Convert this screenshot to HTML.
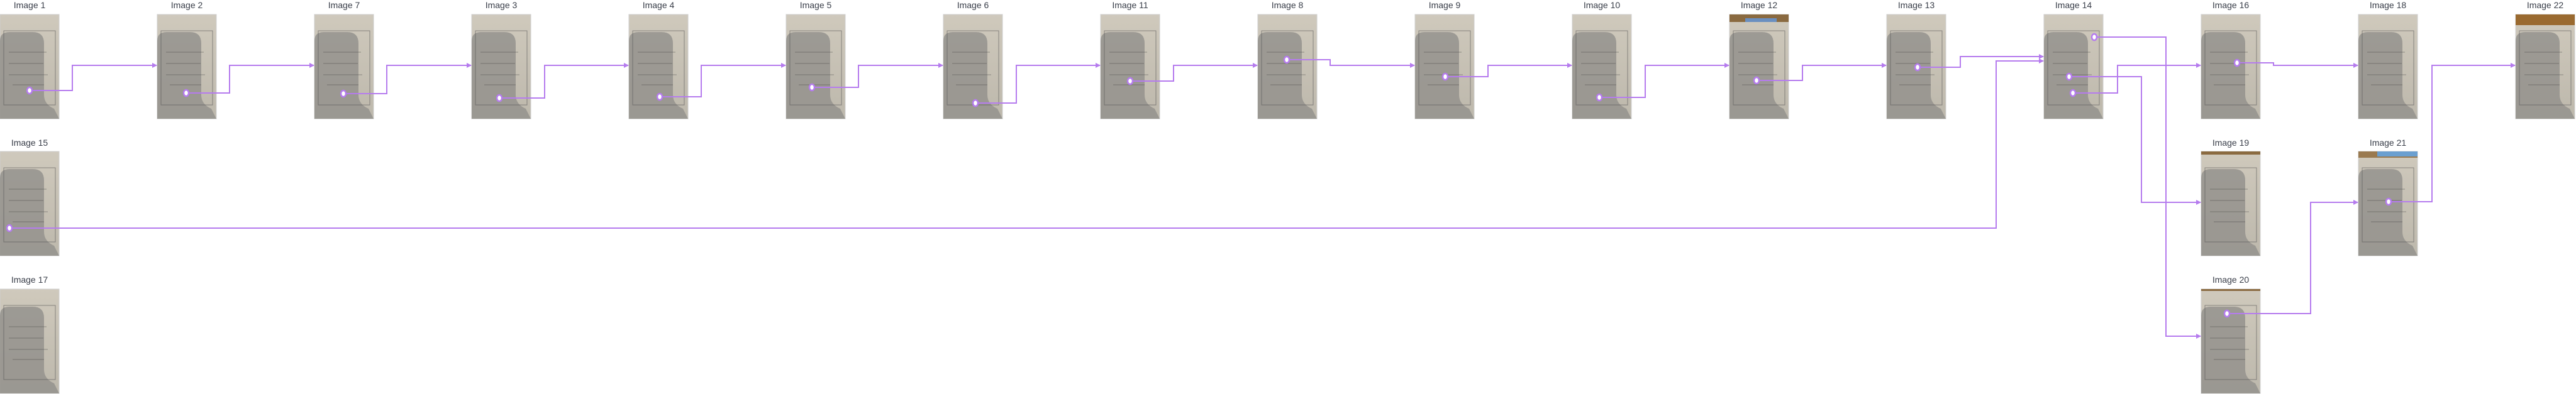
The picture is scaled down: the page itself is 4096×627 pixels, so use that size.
<!DOCTYPE html>
<html><head><meta charset="utf-8"><style>
html,body{margin:0;padding:0;background:#fff;width:4096px;height:627px;overflow:hidden}
svg{display:block}
text{font-family:"Liberation Sans",sans-serif;font-size:14px;fill:#3a3f4a;text-anchor:middle}
</style></head><body>
<svg width="4096" height="627" viewBox="0 0 4096 627" xmlns="http://www.w3.org/2000/svg">
<defs>
<linearGradient id="g" x1="0" y1="0" x2="0" y2="1">
<stop offset="0" stop-color="#cfc9bc"/><stop offset="1" stop-color="#bdb8ac"/>
</linearGradient>
<g id="th">
<rect x="0" y="0" width="94" height="166" fill="url(#g)" stroke="#cfcfcf"/>
<path d="M0 42 Q0 28 15 28 L52 28 Q70 28 70 46 L70 128 Q70 143 86 150 L94 166 L0 166 Z" fill="#94928d" opacity="0.85"/>
<rect x="6" y="26" width="82" height="118" fill="none" stroke="#555" stroke-width="1" opacity="0.6"/>
<path d="M14 60 h60 M14 78 h55 M14 96 h62 M20 112 h50" stroke="#444" stroke-width="1" opacity="0.45"/>
</g>
<marker id="a" markerWidth="8" markerHeight="8" refX="7" refY="4" orient="auto" markerUnits="userSpaceOnUse">
<path d="M0 0 L8 4 L0 8 Z" fill="#b57bee"/></marker>
</defs>
<g>
<text x="47" y="13">Image 1</text><text x="297" y="13">Image 2</text><text x="547" y="13">Image 7</text>
<text x="797" y="13">Image 3</text><text x="1047" y="13">Image 4</text><text x="1297" y="13">Image 5</text>
<text x="1547" y="13">Image 6</text><text x="1797" y="13">Image 11</text><text x="2047" y="13">Image 8</text>
<text x="2297" y="13">Image 9</text><text x="2547" y="13">Image 10</text><text x="2797" y="13">Image 12</text>
<text x="3047" y="13">Image 13</text><text x="3297" y="13">Image 14</text><text x="3547" y="13">Image 16</text>
<text x="3797" y="13">Image 18</text><text x="4047" y="13">Image 22</text>
<text x="47" y="232">Image 15</text><text x="3547" y="232">Image 19</text><text x="3797" y="232">Image 21</text>
<text x="47" y="450">Image 17</text><text x="3547" y="450">Image 20</text>
</g>
<g>
<use href="#th" x="0" y="23"/><use href="#th" x="250" y="23"/><use href="#th" x="500" y="23"/>
<use href="#th" x="750" y="23"/><use href="#th" x="1000" y="23"/><use href="#th" x="1250" y="23"/>
<use href="#th" x="1500" y="23"/><use href="#th" x="1750" y="23"/><use href="#th" x="2000" y="23"/>
<use href="#th" x="2250" y="23"/><use href="#th" x="2500" y="23"/><use href="#th" x="2750" y="23"/>
<use href="#th" x="3000" y="23"/><use href="#th" x="3250" y="23"/><use href="#th" x="3500" y="23"/>
<use href="#th" x="3750" y="23"/><use href="#th" x="4000" y="23"/>
<use href="#th" x="0" y="241"/><use href="#th" x="3500" y="241"/><use href="#th" x="3750" y="241"/>
<use href="#th" x="0" y="460"/><use href="#th" x="3500" y="460"/>
<rect x="2750" y="23" width="94" height="12" fill="#8a6a40"/><rect x="2775" y="29" width="50" height="6" fill="#6a8fc0"/>
<rect x="4000" y="23" width="94" height="17" fill="#9a6a30"/>
<rect x="3500" y="241" width="94" height="5" fill="#8a6a40"/>
<rect x="3750" y="241" width="94" height="10" fill="#9a7a50"/><rect x="3780" y="241" width="64" height="8" fill="#6a9fd0"/>
<rect x="3500" y="460" width="94" height="3" fill="#8a6a40"/>
</g>
<g fill="none" stroke="#b57bee" stroke-width="2" marker-end="url(#a)">
<path d="M47 144 H115 V104 H249"/>
<path d="M296 148 H365 V104 H499"/>
<path d="M546 149 H615 V104 H749"/>
<path d="M794 156 H866 V104 H999"/>
<path d="M1049 154 H1115 V104 H1249"/>
<path d="M1291 139 H1365 V104 H1499"/>
<path d="M1551 164 H1616 V104 H1749"/>
<path d="M1797 129 H1866 V104 H1999"/>
<path d="M2046 95 H2115 V104 H2249"/>
<path d="M2298 122 H2366 V104 H2499"/>
<path d="M2543 155 H2616 V104 H2749"/>
<path d="M2793 128 H2866 V104 H2999"/>
<path d="M3049 107 H3117 V90 H3249"/>
<path d="M15 363 H3174 V97 H3249"/>
<path d="M3330 59 H3444 V535 H3499"/>
<path d="M3290 122 H3405 V322 H3499"/>
<path d="M3296 148 H3367 V104 H3499"/>
<path d="M3557 100 H3615 V104 H3749"/>
<path d="M3541 499 H3674 V322 H3749"/>
<path d="M3798 321 H3867 V104 H3999"/>
</g>
<g fill="#fff" stroke="#b57bee" stroke-width="2.5">
<ellipse cx="47" cy="144" rx="4" ry="5"/><ellipse cx="296" cy="148" rx="4" ry="5"/>
<ellipse cx="546" cy="149" rx="4" ry="5"/><ellipse cx="794" cy="156" rx="4" ry="5"/>
<ellipse cx="1049" cy="154" rx="4" ry="5"/><ellipse cx="1291" cy="139" rx="4" ry="5"/>
<ellipse cx="1551" cy="164" rx="4" ry="5"/><ellipse cx="1797" cy="129" rx="4" ry="5"/>
<ellipse cx="2046" cy="95" rx="4" ry="5"/><ellipse cx="2298" cy="122" rx="4" ry="5"/>
<ellipse cx="2543" cy="155" rx="4" ry="5"/><ellipse cx="2793" cy="128" rx="4" ry="5"/>
<ellipse cx="3049" cy="107" rx="4" ry="5"/><ellipse cx="15" cy="363" rx="4" ry="5"/>
<ellipse cx="3330" cy="59" rx="4" ry="5"/><ellipse cx="3290" cy="122" rx="4" ry="5"/>
<ellipse cx="3296" cy="148" rx="4" ry="5"/><ellipse cx="3557" cy="100" rx="4" ry="5"/>
<ellipse cx="3541" cy="499" rx="4" ry="5"/><ellipse cx="3798" cy="321" rx="4" ry="5"/>
</g>
</svg>
</body></html>
